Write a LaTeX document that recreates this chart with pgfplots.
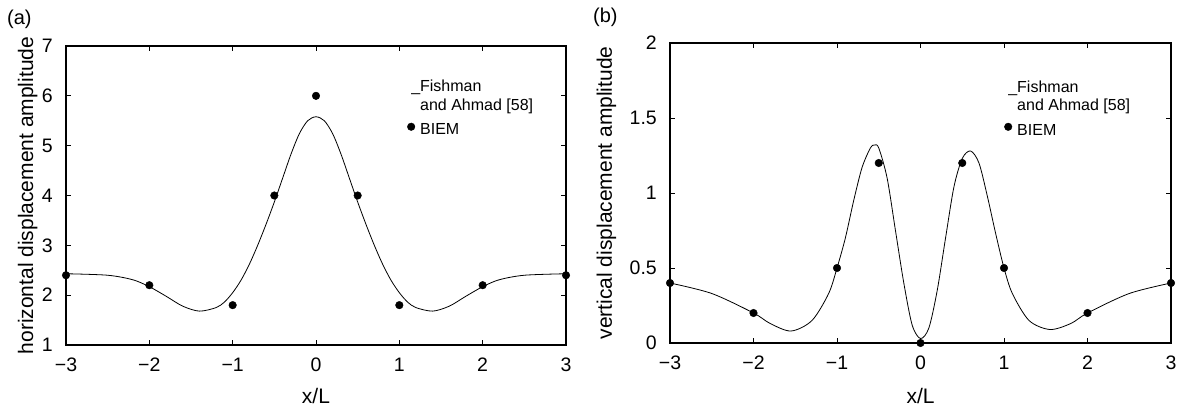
\documentclass[border=0pt]{standalone}
\usepackage{pgfplots}
\pgfplotsset{compat=1.18}
\usepackage{fontspec}
\setmainfont{Liberation Sans}
\begin{document}
\begin{tikzpicture}
\useasboundingbox (0,0) rectangle (1182pt,-409pt);
\pgfplotsset{
  every axis/.append style={
    scale only axis,
    axis line style={line width=1.4pt},
    major tick style={line width=0.9pt, black},
    major tick length=5pt,
    tick align=inside,
    xmin=-3, xmax=3,
    xtick={-3,-2,-1,0,1,2,3},
    xticklabels={−3,−2,−1,0,1,2,3},
    xlabel={x/L},
    /pgf/number format/assume math mode=true,
    tick label style={font=\fontsize{19.5}{22}\selectfont, inner sep=0pt},
    label style={font=\fontsize{21}{24}\selectfont, inner sep=0pt},
    xticklabel style={anchor=north, yshift=-13pt},
    yticklabel style={anchor=east, xshift=-13pt},
    legend cell align=left,
    legend style={draw=none, fill=none, font=\fontsize{16}{19}\selectfont,
      inner sep=0pt, outer sep=0pt, row sep=5pt, column sep=5pt,
      nodes={inner sep=0pt, outer sep=0pt}},
  },
}
\begin{axis}[
  at={(66pt,-345pt)}, anchor=south west,
  width=500pt, height=299pt,
  ymin=1, ymax=7,
  ytick={1,2,3,4,5,6,7},
  ylabel={horizontal displacement amplitude},
  xlabel style={at={(axis description cs:0.5,-0.194)}, anchor=base},
  ylabel style={at={(axis description cs:-0.066,0.5)}, anchor=base},
  legend style={at={(axis cs:1.094,6.318)}, anchor=north west},
]
\addplot[black, line width=0.8pt, smooth, legend image code/.code={}] coordinates {
(-3,2.43) (-2.5,2.40) (-2.2,2.31) (-2.0,2.17) (-1.8,1.98) (-1.6,1.78) (-1.4,1.68) (-1.2,1.75) (-1.1,1.86) (-1.0,2.05) (-0.9,2.3) (-0.8,2.62) (-0.7,3.0) (-0.6,3.42) (-0.5,3.87) (-0.4,4.35) (-0.3,4.83) (-0.2,5.24) (-0.1,5.5) (0,5.58)
(0.1,5.5) (0.2,5.24) (0.3,4.83) (0.4,4.35) (0.5,3.87) (0.6,3.42) (0.7,3.0) (0.8,2.62) (0.9,2.3) (1.0,2.05) (1.1,1.86) (1.2,1.75) (1.4,1.68) (1.6,1.78) (1.8,1.98) (2.0,2.17) (2.2,2.31) (2.5,2.40) (3,2.43)
};
\addlegendentry{\rule[-4pt]{0pt}{16pt}\llap{\_}Fishman}
\addlegendimage{empty legend}
\addlegendentry{\rule[-4pt]{0pt}{16pt}and Ahmad [58]}
\addplot[only marks, mark=*, mark size=3.8pt, black,
  legend image code/.code={\draw[black, fill=black] (0pt,0pt) circle (3.8pt);}] coordinates {
(-3,2.4) (-2,2.2) (-1,1.8) (-0.5,4) (0,6) (0.5,4) (1,1.8) (2,2.2) (3,2.4)
};
\addlegendentry{\rule[-4pt]{0pt}{22pt}BIEM}
\end{axis}
\begin{axis}[
  at={(670pt,-343pt)}, anchor=south west,
  width=501pt, height=300pt,
  ymin=0, ymax=2,
  ytick={0,0.5,1,1.5,2},
  yticklabels={0,0.5,1,1.5,2},
  ylabel={vertical displacement amplitude},
  xlabel style={at={(axis description cs:0.5,-0.2)}, anchor=base},
  ylabel style={at={(axis description cs:-0.1158,0.5)}, anchor=base},
  legend style={at={(axis cs:1.0025,1.753)}, anchor=north west},
]
\addplot[black, line width=0.8pt, smooth, legend image code/.code={}] coordinates {
(-3,0.4) (-2.5,0.33) (-2.0,0.2) (-1.8,0.13) (-1.55,0.08) (-1.3,0.15) (-1.1,0.33) (-1.0,0.5) (-0.9,0.7) (-0.8,0.95) (-0.7,1.17) (-0.6,1.3) (-0.55,1.32) (-0.5,1.3) (-0.4,1.1) (-0.3,0.75) (-0.2,0.4) (-0.1,0.12) (0,0.03)
(0.1,0.1) (0.2,0.35) (0.3,0.7) (0.4,1.04) (0.5,1.23) (0.6,1.28) (0.7,1.2) (0.8,0.98) (0.9,0.73) (1.0,0.5) (1.1,0.33) (1.3,0.15) (1.55,0.09) (1.8,0.13) (2.0,0.2) (2.5,0.33) (3,0.4)
};
\addlegendentry{\rule[-4pt]{0pt}{16pt}\llap{\_}Fishman}
\addlegendimage{empty legend}
\addlegendentry{\rule[-4pt]{0pt}{16pt}and Ahmad [58]}
\addplot[only marks, mark=*, mark size=3.8pt, black,
  legend image code/.code={\draw[black, fill=black] (0pt,0pt) circle (3.8pt);}] coordinates {
(-3,0.4) (-2,0.2) (-1,0.5) (-0.5,1.2) (0,0) (0.5,1.2) (1,0.5) (2,0.2) (3,0.4)
};
\addlegendentry{\rule[-4pt]{0pt}{22pt}BIEM}
\end{axis}
\node[anchor=north west, inner sep=0pt, font=\fontsize{20}{24}\selectfont] at (7pt,-10pt) {(a)};
\node[anchor=north west, inner sep=0pt, font=\fontsize{20}{24}\selectfont] at (593pt,-8pt) {(b)};
\end{tikzpicture}
\end{document}
